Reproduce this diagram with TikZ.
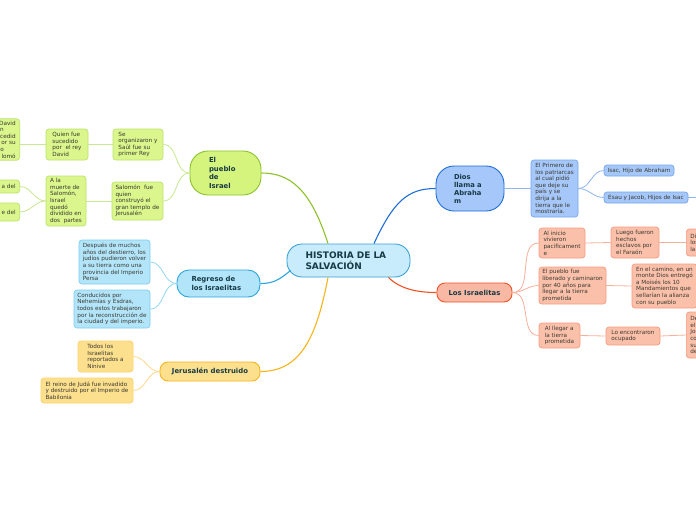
\documentclass[tikz,border=0pt]{standalone}
\usepackage{fontspec}
\setmainfont{DejaVu Sans}
\usetikzlibrary{calc}
\definecolor{cFill}{HTML}{C8ECFB}\definecolor{cLine}{HTML}{3AA2D8}
\definecolor{bFill}{HTML}{A6C7F9}\definecolor{bLine}{HTML}{1E6ED6}\definecolor{bSub}{HTML}{76A6EE}\definecolor{bCon}{HTML}{8FB5F0}
\definecolor{gFill}{HTML}{D5F47E}\definecolor{gLine}{HTML}{8CC22A}\definecolor{gSub}{HTML}{BDE36E}\definecolor{gCon}{HTML}{C8E890}\definecolor{gSFill}{HTML}{DAF68C}
\definecolor{sFill}{HTML}{B3E5FA}\definecolor{sLine}{HTML}{2AA6DD}\definecolor{sSub}{HTML}{80CEF1}\definecolor{sCon}{HTML}{92D7F3}
\definecolor{oFill}{HTML}{F8B8A3}\definecolor{oLine}{HTML}{EF5325}\definecolor{oSub}{HTML}{F79B80}\definecolor{oCon}{HTML}{F9B09A}\definecolor{oSFill}{HTML}{FBC0AA}
\definecolor{yFill}{HTML}{FDE08E}\definecolor{yLine}{HTML}{F7B51C}\definecolor{ySub}{HTML}{FBD26A}\definecolor{yCon}{HTML}{FDD98C}
\definecolor{txtDark}{HTML}{173A45}\definecolor{txtSmall}{HTML}{3A3A30}
\tikzset{
  small/.style={draw, rounded corners=3pt, line width=0.7pt, inner sep=2pt, align=left,
     font=\fontsize{5.7}{6.6}\selectfont, text=txtSmall},
  bsmall/.style={small, fill=bFill, draw=bSub},
  gsmall/.style={small, fill=gSFill, draw=gSub},
  ssmall/.style={small, fill=sFill, draw=sSub},
  osmall/.style={small, fill=oSFill, draw=oSub},
  ysmall/.style={small, fill=yFill, draw=ySub},
  branch/.style={draw, line width=0.9pt, rounded corners=9pt, align=left, text=txtDark,
     font=\bfseries\fontsize{6.9}{8.5}\selectfont},
  main/.style={line width=1.1pt},
  sub/.style={line width=0.8pt}
}
\begin{document}
\begin{tikzpicture}[x=1pt,y=-1pt]
\useasboundingbox (0,0) rectangle (696,520);
\clip (0,0) rectangle (696,520);
\fill[white] (0,0) rectangle (696,520);

% central
\node[draw=cLine, fill=cFill, line width=0.9pt, rounded corners=15pt, minimum width=123pt, minimum height=33pt,
  text width=86pt, align=left, inner xsep=18.5pt, text=txtDark, font=\bfseries\fontsize{9}{11.5}\selectfont]
  (c) at (348.5,260.5) {HISTORIA DE LA\\SALVACIÓN};

% branches
\node[branch, fill=bFill, draw=bLine, rounded corners=18pt, minimum width=68pt, minimum height=45pt, text width=32pt, inner xsep=18pt, font=\bfseries\fontsize{6.8}{8}\selectfont]
  (d) at (470,188.5) {Dios\\llama a\\Abraha\\m};
\node[branch, fill=gFill, draw=gLine, rounded corners=18pt, minimum width=71pt, minimum height=44pt, text width=33pt, inner xsep=19pt, font=\bfseries\fontsize{6.9}{8.7}\selectfont]
  (p) at (225.5,173) {El\\pueblo\\de\\Israel};
\node[branch, fill=sFill, draw=sLine, rounded corners=12pt, minimum width=83pt, minimum height=27pt, text width=54pt, inner xsep=14.5pt]
  (r) at (218.5,283.5) {Regreso de\\los Israelitas};
\node[branch, fill=oFill, draw=oLine, rounded corners=8pt, minimum width=75pt, minimum height=19pt, align=center]
  (li) at (474.5,292.5) {Los Israelitas};
\node[branch, fill=yFill, draw=yLine, rounded corners=8pt, minimum width=100pt, minimum height=19pt, align=center]
  (j) at (210,371.5) {Jerusalén destruido};

% main connectors
\draw[main, bLine] ($(c.north)+(25.5,0)$) .. controls ($(c.north)+(45,-42)$) and ($(d.west)+(-28,0)$) .. (d.west);
\draw[main, gLine] ($(c.north)+(-20.5,0)$) .. controls ($(c.north)+(-38,-55)$) and ($(p.east)+(28,0)$) .. (p.east);
\draw[main, sLine] ($(c.west)+(4,10)$) .. controls ($(c.west)+(-8,20)$) and ($(r.east)+(12,0)$) .. (r.east);
\draw[main, yLine] ($(c.south)+(-20.5,0)$) .. controls ($(c.south)+(-32,60)$) and ($(j.east)+(40,0)$) .. (j.east);
\draw[main, oLine] ($(c.south)+(40,0)$) .. controls ($(c.south)+(52,12)$) and ($(li.west)+(-18,0)$) .. (li.west);

% blue children
\node[bsmall, minimum width=47pt, minimum height=57pt] (b1) at (554.5,188.5)
  {El Primero de\\los patriarcas\\al cual pidió\\que deje su\\país y se\\dirija a la\\tierra que le\\mostraría.};
\node[bsmall, minimum width=70pt, minimum height=11pt] (b2) at (639,170.5) {Isac, Hijo de Abraham};
\node[bsmall, minimum width=84pt, minimum height=11pt] (b3) at (646,197.5) {Esau y Jacob, Hijos de Isac};
\coordinate (boff) at (705,197.5);
\draw[sub, bCon] (d.east) -- (b1.west);
\draw[sub, bCon] (b1.east) to[out=0,in=180] (b2.west);
\draw[sub, bCon] (b1.east) to[out=0,in=180] (b3.west);
\draw[sub, bCon] (b3.east) -- (boff);

% orange children
\node[osmall, minimum width=46pt, minimum height=30pt] (o1) at (562,243) {Al inicio\\vivieron\\pacificament\\e};
\node[osmall, minimum width=67pt, minimum height=37pt] (o2) at (572.5,285.5) {El pueblo fue\\liberado y caminaron\\por 40 años para\\llegar a la tierra\\prometida};
\node[osmall, minimum width=41pt, minimum height=25pt] (o3) at (559.5,335.5) {Al llegar a\\la tierra\\prometida};
\node[osmall, minimum width=48pt, minimum height=31pt] (o4) at (635,242.5) {Luego fueron\\hechos\\esclavos por\\el Faraón};
\node[osmall, minimum width=65pt, minimum height=44pt] (o5) at (664.5,286) {En el camino, en un\\monte Dios entregó\\a Moisés los 10\\Mandamientos que\\sellarían la alianza\\con su pueblo};
\node[osmall, minimum width=54pt, minimum height=18pt] (o6) at (633,336) {Lo encontraron\\ocupado};
\node[osmall, minimum height=27pt, text width=50pt, inner xsep=4pt, anchor=west] (o7) at (686,242.5) {Dios envió a\\los israelitas\\la libertad};
\node[osmall, minimum height=46pt, text width=50pt, inner xsep=4pt, anchor=west] (o8) at (686,335) {Después de\\el desierto\\Josué los\\condujo a\\su tierra\\derrotando};
\draw[sub, oCon] (li.east) to[out=0,in=180] (o1.west);
\draw[sub, oCon] (li.east) to[out=0,in=180] (o2.west);
\draw[sub, oCon] (li.east) to[out=0,in=180] (o3.west);
\draw[sub, oCon] (o1.east) -- (o4.west);
\draw[sub, oCon] (o2.east) -- (o5.west);
\draw[sub, oCon] (o3.east) -- (o6.west);
\draw[sub, oCon] (o4.east) -- (o7.west);
\draw[sub, oCon] (o6.east) -- (o8.west);

% green children
\node[gsmall, minimum width=50pt, minimum height=31pt] (g1) at (138,144.5) {Se\\organizaron y\\Saúl fue su\\primer Rey};
\node[gsmall, minimum width=51pt, minimum height=38pt] (g2) at (137.5,201) {Salomón\ \ fue\\quien\\construyó el\\gran templo de\\Jerusalén};
\node[gsmall, minimum width=42pt, minimum height=31pt] (g3) at (67,144.5) {Quien fue\\sucedido\\por\ \ el rey\\David};
\node[gsmall, minimum width=40pt, minimum height=50pt] (g4) at (66,201) {A la\\muerte de\\Salomón,\\Israel\\quedó\\dividido en\\dos\ \ partes};
\node[gsmall, minimum height=41pt, text width=40pt, align=right, inner xsep=4pt, anchor=east] (g5) at (20,139.5)
  {David\\n\hphantom{cedi}\\cedid\\or su\\o\hphantom{cedi}\\lomó};
\node[gsmall, minimum height=13pt, text width=40pt, align=right, inner xsep=4pt, anchor=east] (g6) at (20,186.5) {a del};
\node[gsmall, minimum height=18pt, text width=40pt, align=right, inner xsep=4pt, anchor=east] (g7) at (20,212) {e del};
\draw[sub, gCon] (p.west) to[out=180,in=0] (g1.east);
\draw[sub, gCon] (p.west) to[out=180,in=0] (g2.east);
\draw[sub, gCon] (g1.west) -- (g3.east);
\draw[sub, gCon] (g2.west) -- (g4.east);
\draw[sub, gCon] (g3.west) -- (g3.west -| g5.east);
\draw[sub, gCon] (g4.west) to[out=180,in=0] (g6.east);
\draw[sub, gCon] (g4.west) to[out=180,in=0] (g7.east);

% sky children
\node[ssmall, minimum width=71pt, minimum height=44pt] (s1) at (114.5,262) {Después de muchos\\años del destierro, los\\judíos pudieron volver\\a su tierra como una\\provincia del Imperio\\Persa};
\node[ssmall, minimum width=76pt, minimum height=38pt] (s2) at (112,309) {Conducidos por\\Nehemías y Esdras,\\todos estos trabajaron\\por la reconstrucción de\\la ciudad y del imperio.};
\draw[sub, sCon] (r.west) to[out=180,in=0] (s1.east);
\draw[sub, sCon] (r.west) to[out=180,in=0] (s2.east);

% yellow children
\node[ysmall, minimum width=55pt, minimum height=31pt] (y1) at (105.5,356.5) {Todos los\\Israelitas\\reportados a\\Ninive};
\node[ysmall, minimum width=92pt, minimum height=25pt] (y2) at (87,390.5) {El reino de Judá fue invadido\\y destruido por el Imperio de\\Babilonia};
\draw[sub, yCon] (j.west) to[out=180,in=0] (y1.east);
\draw[sub, yCon] (j.west) to[out=180,in=0] (y2.east);
\end{tikzpicture}
\end{document}
